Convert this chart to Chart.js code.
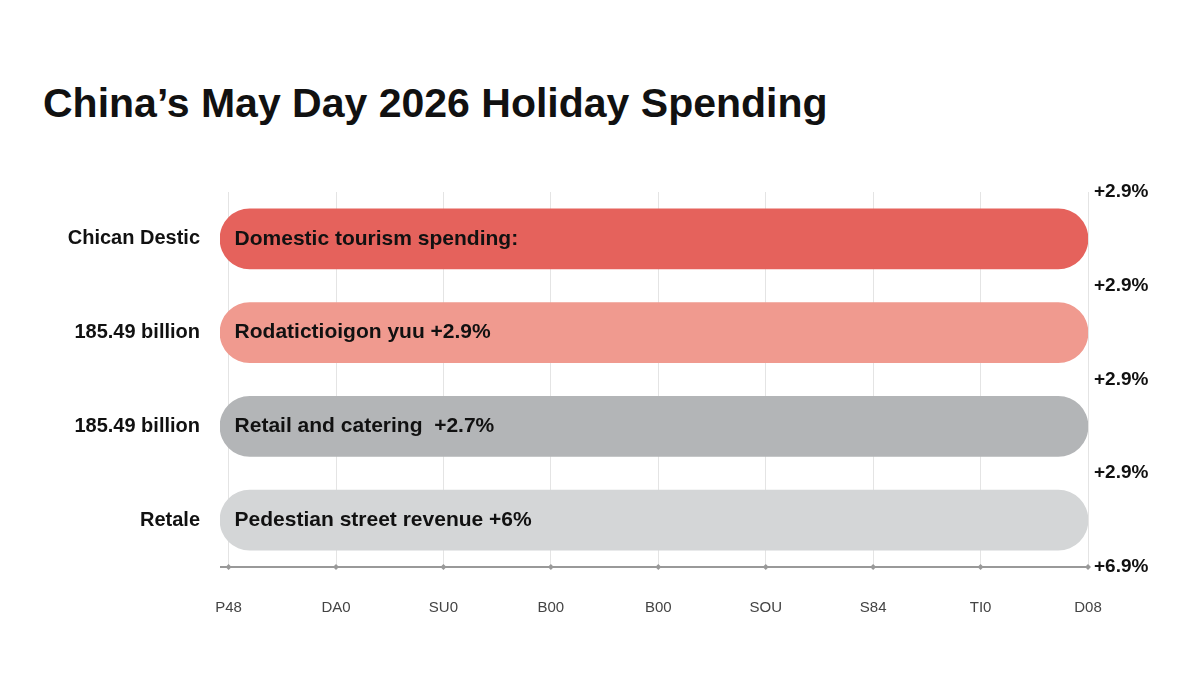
<!DOCTYPE html>
<html><head><meta charset="utf-8">
<script src="https://cdn.jsdelivr.net/npm/chart.js@4"></script>
<style>
  html,body{margin:0;background:#fff;font-family:"Liberation Sans",Arial,sans-serif}
  #wrap{position:relative;width:1200px;height:678px}
  h1{position:absolute;left:43px;top:80px;margin:0;font-size:41px;font-weight:700;color:#111;font-family:"Liberation Sans",Arial,sans-serif}
  canvas{position:absolute;left:0;top:0}
</style></head>
<body><div id="wrap"><h1>China’s May Day 2026 Holiday Spending</h1><canvas id="c" width="1200" height="678"></canvas></div>
<script>
const categories = ['Chican Destic','185.49 billion','185.49 billion','Retale'];
const barTexts = ['Domestic tourism spending:','Rodatictioigon yuu +2.9%','Retail and catering  +2.7%','Pedestian street revenue +6%'];
const values = [8, 8, 8, 8];
const rightLabels = ['+2.9%','+2.9%','+2.9%','+2.9%','+6.9%'];
const xTickLabels = ['P48','DA0','SU0','B00','B00','SOU','S84','TI0','D08'];
const barColors = ['#e5625c','#f09a8f','#b3b5b7','#d4d6d7'];

const overlay = {
  id:'overlay',
  afterDatasetsDraw(chart){
    const {ctx, scales:{x,y}, chartArea:a} = chart;
    ctx.save();
    ctx.font = '600 21px "Liberation Sans", Arial, sans-serif';
    ctx.fillStyle = '#111'; ctx.textBaseline = 'middle'; ctx.textAlign = 'left';
    barTexts.forEach((t,i)=> ctx.fillText(t, x.getPixelForValue(0)+6, y.getPixelForTick(i)));
    const step = y.getPixelForTick(1) - y.getPixelForTick(0);
    ctx.font = '700 19px "Liberation Sans", Arial, sans-serif';
    rightLabels.forEach((t,i)=> ctx.fillText(t, a.right+6, y.getPixelForTick(0) + (i-0.5)*step));
    ctx.strokeStyle = '#999'; ctx.lineWidth = 2;
    ctx.beginPath(); ctx.moveTo(a.left, a.bottom); ctx.lineTo(a.right, a.bottom); ctx.stroke();
    ctx.fillStyle = '#999';
    xTickLabels.forEach((_,i)=>{
      const px = x.getPixelForValue(i);
      ctx.beginPath(); ctx.moveTo(px-3,a.bottom); ctx.lineTo(px,a.bottom-3); ctx.lineTo(px+3,a.bottom); ctx.lineTo(px,a.bottom+3); ctx.fill();
    });
    ctx.restore();
  }
};

new Chart(document.getElementById('c'), {
  type:'bar',
  data:{ labels:categories, datasets:[{ data:values, base:-0.08, backgroundColor:barColors, borderRadius:30, borderSkipped:false, barThickness:60 }]},
  options:{
    indexAxis:'y', responsive:false, animation:false,
    layout:{ padding:{ top:192, right:112, bottom:29, left:0 } },
    plugins:{ legend:{display:false}, tooltip:{enabled:false} },
    scales:{
      x:{ min:-0.08, max:8, afterBuildTicks(s){ s.ticks = xTickLabels.map((_,i)=>({value:i})); },
          ticks:{ callback:(v,i)=>xTickLabels[i], color:'#444', font:{size:15, family:'"Liberation Sans", Arial, sans-serif'}, padding:32, maxRotation:0, autoSkip:false },
          grid:{ color:'#e4e4e4', drawTicks:false }, border:{display:false} },
      y:{ afterFit(s){ s.width = 220; },
          ticks:{ color:'#111', font:{size:20, weight:'600', family:'"Liberation Sans", Arial, sans-serif'}, padding:12 },
          grid:{ display:false }, border:{display:false} }
    }
  },
  plugins:[overlay]
});
</script></body></html>
